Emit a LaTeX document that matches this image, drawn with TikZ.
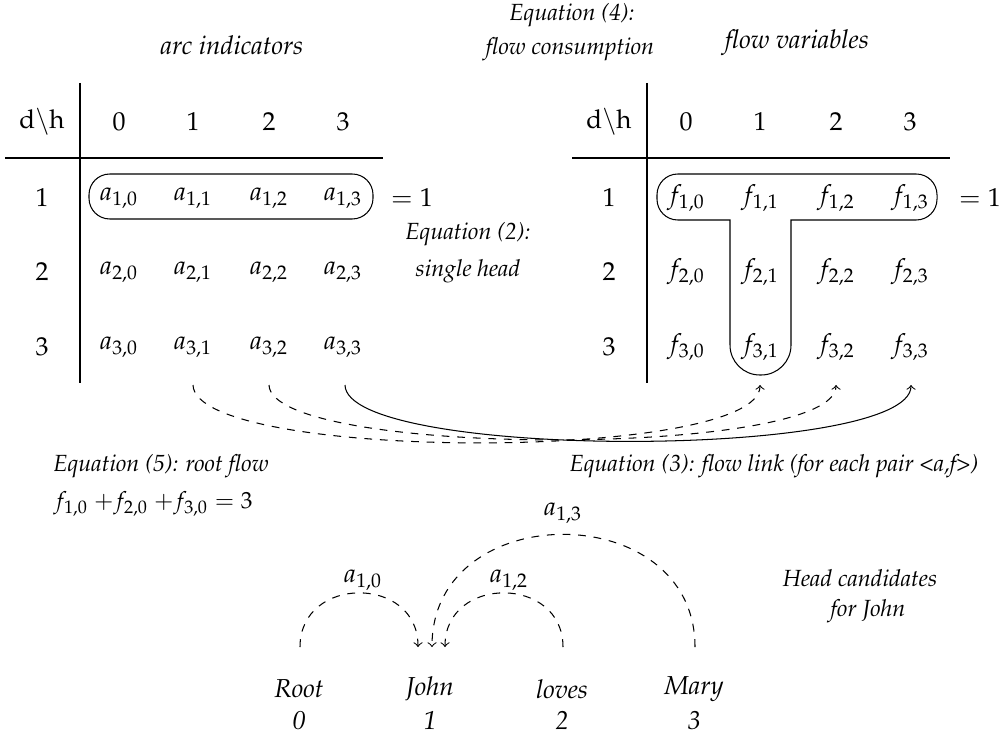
\documentclass[tikz,border=0pt]{standalone}
\usepackage[T1]{fontenc}
\usepackage{mathpazo}
\begin{document}
\begin{tikzpicture}[x=0.385pt,y=-0.385pt,
  lab/.style={font=\small\itshape, inner sep=1pt},
  ttl/.style={font=\normalsize\itshape, inner sep=1pt},
  cell/.style={inner sep=1pt},
  word/.style={font=\normalsize\itshape, inner sep=1pt},
  link/.style={->},
  dlink/.style={->,dashed}]
\useasboundingbox (0,0) rectangle (1002,743);

% titles
\node[ttl] (tA) at (232,45) {arc indicators};
\node[ttl] (tF) at (797,43) {flow variables};
\node[lab] (e4a) at (572,15) {Equation (4):};
\node[lab] (e4b) at (570,49) {flow consumption};

% left table
\draw (80,83) -- (80,383);
\draw (5,158) -- (383,158);
\node[cell] (hA) at (42,122) {$\mathrm{d}\backslash\mathrm{h}$};
\foreach \j/\x in {0/119,1/193,2/269,3/343}{
  \node[cell] (cA\j) at (\x,122) {$\j$};
}
\foreach \i/\y in {1/198,2/272,3/347}{
  \node[cell] (rA\i) at (42,\y) {$\i$};
  \foreach \j/\x in {0/119,1/193,2/269,3/343}{
    \node[cell] (a\i\j) at (\x,\y) {$a_{\i,\j}$};
  }
}
\draw[rounded corners=8pt] (89,174) rectangle (373,219);
\node[cell] (eqA) at (412,198) {$=1$};

% right table
\draw (647,83) -- (647,383);
\draw (572,158) -- (950,158);
\node[cell] (hF) at (609,122) {$\mathrm{d}\backslash\mathrm{h}$};
\foreach \j/\x in {0/686,1/760,2/836,3/910}{
  \node[cell] (cF\j) at (\x,122) {$\j$};
}
\foreach \i/\y in {1/198,2/272,3/347}{
  \node[cell] (rF\i) at (609,\y) {$\i$};
  \foreach \j/\x in {0/686,1/760,2/836,3/910}{
    \node[cell] (f\i\j) at (\x,\y) {$f_{\i,\j}$};
  }
}
\draw (791,300) [rounded corners=11.5pt] -- (791,375) -- (730,375) -- (730,300)
  [sharp corners] -- (730,220) -- (700,220) [rounded corners=8pt] -- (657,220)
  -- (657,174) -- (937,174) -- (937,220) -- (880,220) [sharp corners] -- (791,220) -- cycle;
\node[cell] (eqF) at (980,198) {$=1$};

% equation 2
\node[lab] (e2a) at (468,234) {Equation (2):};
\node[lab] (e2b) at (468,271) {single head};

% flow links
\coordinate (s1) at (193,385);
\coordinate (s2) at (269,385);
\coordinate (s3) at (345,385);
\coordinate (t1) at (760,385);
\coordinate (t2) at (836,385);
\coordinate (t3) at (911,385);
\draw[dlink] (s1) .. controls (195,462) and (760,462) .. (t1);
\draw[dlink] (s2) .. controls (271,458) and (836,458) .. (t2);
\draw[link] (s3) .. controls (346,460) and (911,460) .. (t3);

\node[lab] (e5) at (161,466) {Equation (5): root flow};
\node[cell, font=\small] (e5f) at (153,504) {$f_{1,0}$ $+f_{2,0}$ $+f_{3,0}=3$};
\node[lab] (e3) at (774,466) {Equation (3): flow link (for each pair <a,f>)};

% sentence
\node[word] (w0) at (299,689) {Root};
\node[word] (w1) at (430,689) {John};
\node[word] (w2) at (562,689) {loves};
\node[word] (w3) at (694,689) {Mary};
\node[word] (n0) at (299,721) {0};
\node[word] (n1) at (430,721) {1};
\node[word] (n2) at (562,721) {2};
\node[word] (n3) at (694,721) {3};

\coordinate (h0) at (300,647);
\coordinate (h2) at (563,647);
\coordinate (h3) at (695,647);
\coordinate (j0) at (418,647);
\coordinate (j3) at (432,647);
\coordinate (j2) at (445,647);
\draw[dlink] (h0) .. controls (300,575) and (418,575) .. (j0);
\draw[dlink] (h2) .. controls (563,575) and (445,575) .. (j2);
\draw[dlink] (h3) .. controls (695,497) and (432,497) .. (j3);
\node[cell] (l10) at (363,580) {$a_{1,0}$};
\node[cell] (l12) at (509,580) {$a_{1,2}$};
\node[cell] (l13) at (563,513) {$a_{1,3}$};

\node[lab] (hc1) at (860,578) {Head candidates};
\node[lab] (hc2) at (868,611) {for John};
\end{tikzpicture}
\end{document}
